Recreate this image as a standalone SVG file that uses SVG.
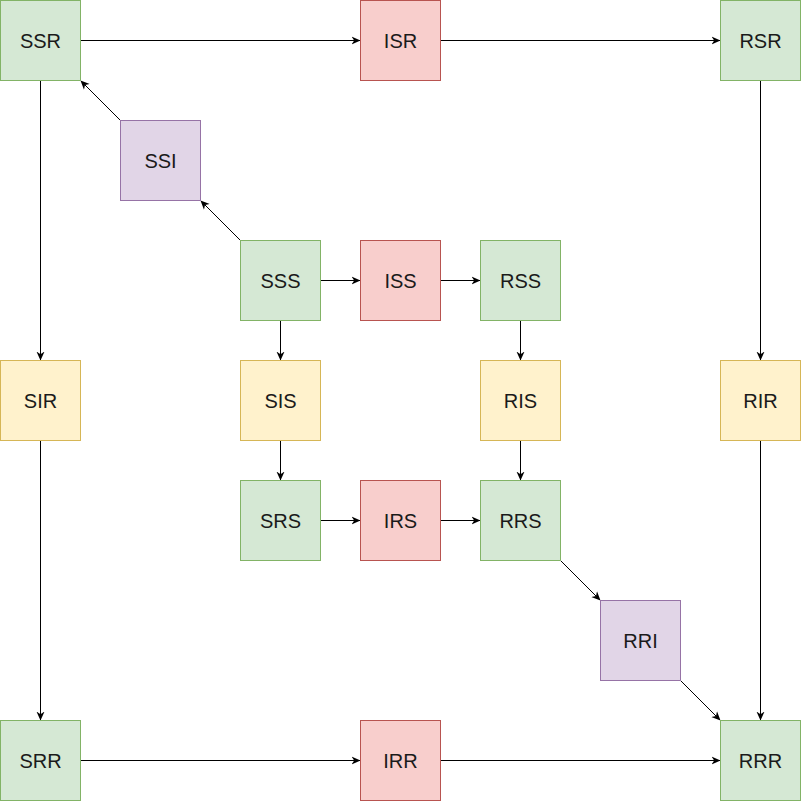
<svg xmlns="http://www.w3.org/2000/svg" width="801" height="802" viewBox="0 0 801 802">
<defs>
<style>
.g rect{fill:#d5e8d4;stroke:#82b366}
.r rect{fill:#f8cecc;stroke:#b85450}
.y rect{fill:#fff2cc;stroke:#d6b656}
.p rect{fill:#e1d5e7;stroke:#9673a6}
text{font-family:"Liberation Sans",Arial,sans-serif;font-size:20px;fill:#1a1a1a;text-anchor:middle}
#edges line{stroke:#000;stroke-width:1;marker-end:url(#arr)}
</style>
<marker id="arr" viewBox="0 0 10 10" refX="10" refY="5" markerWidth="9" markerHeight="9" markerUnits="userSpaceOnUse" orient="auto">
<path d="M0,0.5 L10,5 L0,9.5 L3,5 z" fill="#000"/>
</marker>
</defs>
<rect width="801" height="802" fill="#fff"/>
<g id="edges">
<line x1="80.5" y1="40.5" x2="360.5" y2="40.5"/>
<line x1="440.5" y1="40.5" x2="720.5" y2="40.5"/>
<line x1="40.5" y1="80.5" x2="40.5" y2="360.5"/>
<line x1="40.5" y1="440.5" x2="40.5" y2="720.5"/>
<line x1="80.5" y1="760.5" x2="360.5" y2="760.5"/>
<line x1="440.5" y1="760.5" x2="720.5" y2="760.5"/>
<line x1="760.5" y1="80.5" x2="760.5" y2="360.5"/>
<line x1="760.5" y1="440.5" x2="760.5" y2="720.5"/>
<line x1="240.5" y1="240.5" x2="200.5" y2="200.5"/>
<line x1="120.5" y1="120.5" x2="80.5" y2="80.5"/>
<line x1="320.5" y1="280.5" x2="360.5" y2="280.5"/>
<line x1="440.5" y1="280.5" x2="480.5" y2="280.5"/>
<line x1="280.5" y1="320.5" x2="280.5" y2="360.5"/>
<line x1="280.5" y1="440.5" x2="280.5" y2="480.5"/>
<line x1="320.5" y1="520.5" x2="360.5" y2="520.5"/>
<line x1="440.5" y1="520.5" x2="480.5" y2="520.5"/>
<line x1="520.5" y1="320.5" x2="520.5" y2="360.5"/>
<line x1="520.5" y1="440.5" x2="520.5" y2="480.5"/>
<line x1="560.5" y1="560.5" x2="600.5" y2="600.5"/>
<line x1="680.5" y1="680.5" x2="720.5" y2="720.5"/>
</g>
<g id="SSR" class="g"><rect x="0.5" y="0.5" width="80" height="80"/><text x="40.5" y="48">SSR</text></g>
<g id="ISR" class="r"><rect x="360.5" y="0.5" width="80" height="80"/><text x="400.5" y="48">ISR</text></g>
<g id="RSR" class="g"><rect x="720.5" y="0.5" width="80" height="80"/><text x="760.5" y="48">RSR</text></g>
<g id="SSI" class="p"><rect x="120.5" y="120.5" width="80" height="80"/><text x="160.5" y="168">SSI</text></g>
<g id="SSS" class="g"><rect x="240.5" y="240.5" width="80" height="80"/><text x="280.5" y="288">SSS</text></g>
<g id="ISS" class="r"><rect x="360.5" y="240.5" width="80" height="80"/><text x="400.5" y="288">ISS</text></g>
<g id="RSS" class="g"><rect x="480.5" y="240.5" width="80" height="80"/><text x="520.5" y="288">RSS</text></g>
<g id="SIR" class="y"><rect x="0.5" y="360.5" width="80" height="80"/><text x="40.5" y="408">SIR</text></g>
<g id="SIS" class="y"><rect x="240.5" y="360.5" width="80" height="80"/><text x="280.5" y="408">SIS</text></g>
<g id="RIS" class="y"><rect x="480.5" y="360.5" width="80" height="80"/><text x="520.5" y="408">RIS</text></g>
<g id="RIR" class="y"><rect x="720.5" y="360.5" width="80" height="80"/><text x="760.5" y="408">RIR</text></g>
<g id="SRS" class="g"><rect x="240.5" y="480.5" width="80" height="80"/><text x="280.5" y="528">SRS</text></g>
<g id="IRS" class="r"><rect x="360.5" y="480.5" width="80" height="80"/><text x="400.5" y="528">IRS</text></g>
<g id="RRS" class="g"><rect x="480.5" y="480.5" width="80" height="80"/><text x="520.5" y="528">RRS</text></g>
<g id="RRI" class="p"><rect x="600.5" y="600.5" width="80" height="80"/><text x="640.5" y="648">RRI</text></g>
<g id="SRR" class="g"><rect x="0.5" y="720.5" width="80" height="80"/><text x="40.5" y="768">SRR</text></g>
<g id="IRR" class="r"><rect x="360.5" y="720.5" width="80" height="80"/><text x="400.5" y="768">IRR</text></g>
<g id="RRR" class="g"><rect x="720.5" y="720.5" width="80" height="80"/><text x="760.5" y="768">RRR</text></g>
</svg>
